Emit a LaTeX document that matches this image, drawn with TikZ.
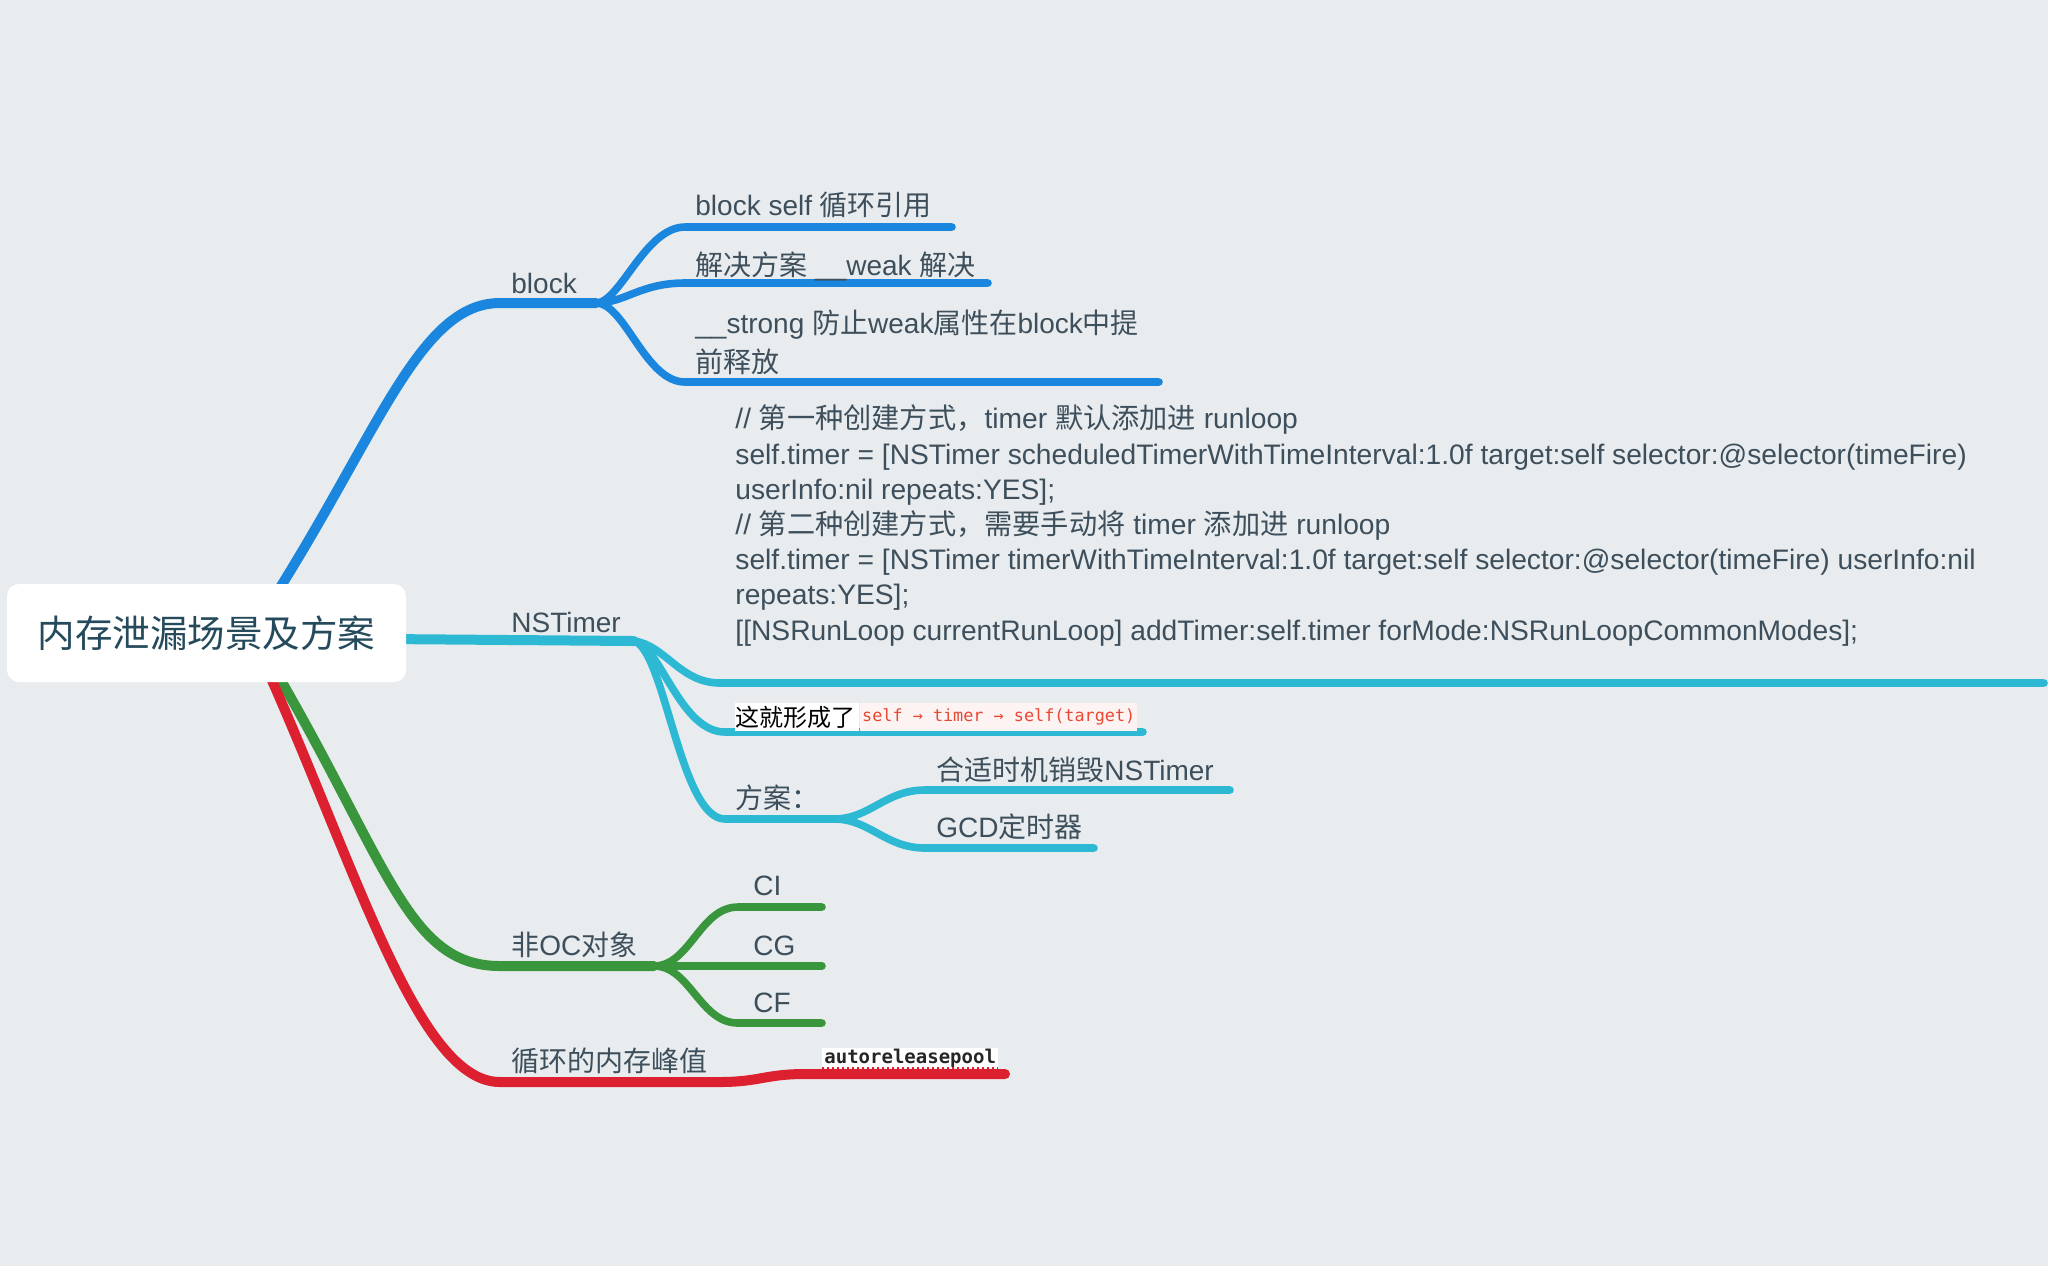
\documentclass[tikz,border=0pt]{standalone}
\usepackage{fontspec}
\setmainfont{Liberation Sans}
\newfontfamily\cjk{Noto Sans CJK SC}
\newfontfamily\monof{DejaVu Sans Mono}
\usetikzlibrary{calc}
\pgfdeclarelayer{bgl}
\pgfdeclarelayer{lines}
\pgfsetlayers{bgl,lines,main}
\definecolor{bgc}{RGB}{232,236,239}
\definecolor{cblue}{RGB}{27,134,221}
\definecolor{ccyan}{RGB}{45,185,212}
\definecolor{cgreen}{RGB}{58,150,60}
\definecolor{cred}{RGB}{221,32,48}
\definecolor{txtc}{RGB}{62,79,92}
\definecolor{roottxt}{RGB}{36,74,92}
\definecolor{codered}{RGB}{232,72,50}
\definecolor{pinkbg}{RGB}{253,243,243}
\newcommand\lblf{\fontsize{14}{17.6}\selectfont}
\tikzset{
  mainline/.style={line width=5pt, line cap=round},
  subline/.style={line width=3.8pt, line cap=round},
  lbl/.style={anchor=base west, inner sep=0pt, text=txtc, font=\lblf},
  rootbox/.style={fill=white, rounded corners=6pt, minimum width=199.5pt, minimum height=49pt, inner sep=0pt, text=roottxt, font=\fontsize{18.75}{20}\selectfont},
}
\begin{document}
\begin{tikzpicture}[x=0.5pt,y=-0.5pt]
\begin{pgfonlayer}{bgl}
\fill[bgc] (0,0) rectangle (2048,1266);
\end{pgfonlayer}
\useasboundingbox (0,0) rectangle (2048,1266);

% root
\node[rootbox] (root) at (206.5,633) {\cjk 内存泄漏场景及方案};

% junction coordinates
\coordinate (jb0) at (500,303);
\coordinate (jb) at (596,303);
\coordinate (jb1) at (685,227);
\coordinate (eb1) at (952,227);
\coordinate (jb2) at (685,283);
\coordinate (eb2) at (988,283);
\coordinate (jb3) at (685,382);
\coordinate (eb3) at (1159,382);

\coordinate (jn) at (634,641);
\coordinate (jn1) at (720,683);
\coordinate (en1) at (2044,683);
\coordinate (jn2) at (725,732);
\coordinate (en2) at (1143,732);
\coordinate (jn3) at (725,819);
\coordinate (jf) at (834,819);
\coordinate (jf1) at (925,790);
\coordinate (ef1) at (1230,790);
\coordinate (jf2) at (925,848);
\coordinate (ef2) at (1094,848);

\coordinate (jg0) at (500,966);
\coordinate (jg) at (654,966);
\coordinate (jg1) at (738,907);
\coordinate (eg1) at (822,907);
\coordinate (eg2) at (822,966);
\coordinate (jg3) at (738,1023);
\coordinate (eg3) at (822,1023);

\coordinate (jr0) at (500,1082);
\coordinate (jr1) at (719,1082);
\coordinate (jr2) at (805,1074);
\coordinate (er) at (1005,1074);

\begin{pgfonlayer}{lines}
% block branch
\draw[mainline, cblue] ($(root.north)+(66,16)$) .. controls (380,430) and (420,303) .. (jb0) -- (jb);
\draw[subline, cblue] (jb) .. controls (620,303) and (645,227) .. (jb1) -- (eb1);
\draw[subline, cblue] (jb) .. controls (625,303) and (640,283) .. (jb2) -- (eb2);
\draw[subline, cblue] (jb) .. controls (625,303) and (645,382) .. (jb3) -- (eb3);
% NSTimer branch
\draw[mainline, ccyan] ($(root.east)+(-20,6)$) -- (jn);
\draw[subline, ccyan] (jn) .. controls (665,645) and (680,683) .. (jn1) -- (en1);
\draw[subline, ccyan] (jn) .. controls (660,645) and (680,732) .. (jn2) -- (en2);
\draw[subline, ccyan] (jn) .. controls (665,650) and (680,819) .. (jn3) -- (jf);
\draw[subline, ccyan] (jf) .. controls (870,819) and (885,790) .. (jf1) -- (ef1);
\draw[subline, ccyan] (jf) .. controls (870,819) and (885,848) .. (jf2) -- (ef2);
% non-OC branch
\draw[mainline, cgreen] ($(root.south)+(74.5,-2)$) .. controls (390,870) and (410,966) .. (jg0) -- (jg);
\draw[subline, cgreen] (jg) .. controls (690,966) and (700,907) .. (jg1) -- (eg1);
\draw[subline, cgreen] (jg) -- (eg2);
\draw[subline, cgreen] (jg) .. controls (690,966) and (700,1023) .. (jg3) -- (eg3);
% loop memory peak branch
\draw[mainline, cred] ($(root.south)+(65.5,-2)$) .. controls (360,880) and (420,1082) .. (jr0) -- (jr1)
  .. controls (760,1082) and (765,1074) .. (jr2) -- (er);
\end{pgfonlayer}

% labels
\node[lbl] (lblock) at (511,293) {block};
\node[lbl] (b1) at (695,215) {block self {\cjk 循环引用}};
\node[lbl] (b2) at (695,275) {{\cjk 解决方案} \_\_weak {\cjk 解决}};
\node[lbl, align=left, font=\fontsize{14}{19.5}\selectfont] (b3) at (695,372)
  {\_\_strong {\cjk 防止}weak{\cjk 属性在}block{\cjk 中提}\\{\cjk 前释放}};

\node[lbl] (lnst) at (511,632) {NSTimer};
\node[lbl, align=left, font=\fontsize{14.1}{17.6}\selectfont] (code) at (735,640) {%
// {\cjk 第一种创建方式，}timer {\cjk 默认添加进} runloop\\
self.timer = [NSTimer scheduledTimerWithTimeInterval:1.0f target:self selector:@selector(timeFire)\\
userInfo:nil repeats:YES];\\
// {\cjk 第二种创建方式，需要手动将} timer {\cjk 添加进} runloop\\
self.timer = [NSTimer timerWithTimeInterval:1.0f target:self selector:@selector(timeFire) userInfo:nil\\
repeats:YES];\\{}%
[[NSRunLoop currentRunLoop] addTimer:self.timer forMode:NSRunLoopCommonModes];};

\node[anchor=west, fill=white, inner sep=0pt, minimum height=14pt, text=black,
  font=\fontsize{12}{14}\selectfont] (cyc1) at (735,717) {\cjk 这就形成了\,};
\node[anchor=west, fill=pinkbg, inner xsep=1pt, inner ysep=0pt, minimum height=14pt, text=codered,
  font=\fontsize{8.4}{10}\monof] (cyc2) at (cyc1.east) {self → timer → self(target)};

\node[lbl] (lfa) at (735,808) {{\cjk 方案：}};
\node[lbl] (f1) at (936,780) {{\cjk 合适时机销毁}NSTimer};
\node[lbl] (f2) at (936,837) {GCD{\cjk 定时器}};

\node[lbl] (lnoc) at (511,955) {{\cjk 非}OC{\cjk 对象}};
\node[lbl] (g1) at (753,895) {CI};
\node[lbl] (g2) at (753,955) {CG};
\node[lbl] (g3) at (753,1012) {CF};

\node[lbl] (lpeak) at (511,1071) {{\cjk 循环的内存峰值}};
\node[anchor=west, fill=white, inner xsep=1pt, inner ysep=0pt, minimum height=10pt, text=black!85,
  font=\fontsize{9.5}{10}\monof\bfseries] (arp) at (822,1058) {autoreleasepool};
\draw[cred, line width=1pt, dash pattern=on 1pt off 1.5pt] (arp.south west) -- (arp.south east);
\end{tikzpicture}
\end{document}
